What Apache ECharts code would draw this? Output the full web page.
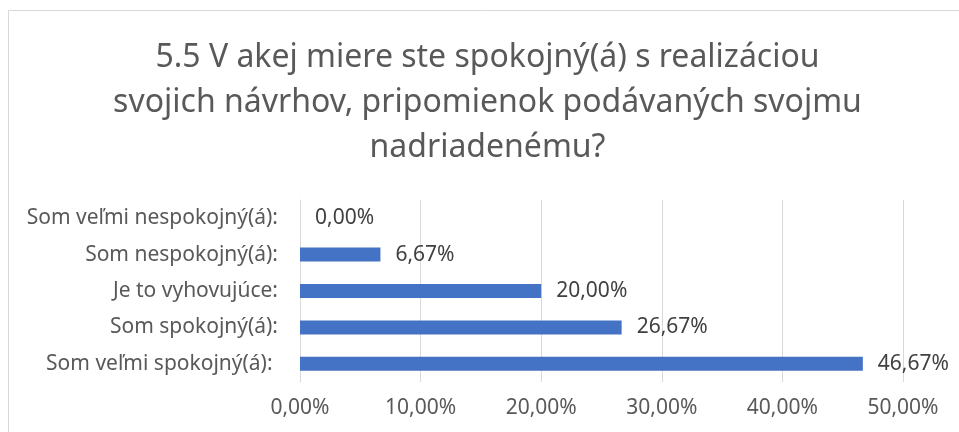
<!DOCTYPE html>
<html>
<head>
<meta charset="utf-8">
<script src="https://cdn.jsdelivr.net/npm/echarts@6/dist/echarts.min.js"></script>
<style>
html, body { margin:0; padding:0; background:#fff; overflow:hidden; }
#graphic { width:975px; height:432px; }
</style>
</head>
<body>
<div id="graphic"></div>
<script>
// kategorie - zhora nadol
var categories = ['Som veľmi nespokojný(á):', 'Som nespokojný(á):', 'Je to vyhovujúce:', 'Som spokojný(á):', 'Som veľmi spokojný(á): '];
// hodnoty v percentach
var values = [0, 6.67, 20, 26.67, 46.67];
var xTicks = [0, 10, 20, 30, 40, 50];

var titleText = '5.5 V akej miere ste spokojný(á) s realizáciou\nsvojich návrhov, pripomienok podávaných svojmu\nnadriadenému?';
var font = 'Noto Sans';
var textColor = '#595959';

function pct(v){
    return v.toFixed(2).replace('.', ',') + '%';
}

var option = {
    animation: false,
    title: {
        text: titleText,
        left: 'center',
        top: 30,
        textStyle: {fontFamily: font, fontSize: 32, fontWeight: 'normal', color: textColor, lineHeight: 45}
    },
    graphic: [{
        type: 'rect',
        shape: {x: 8.5, y: 10.5, width: 958, height: 440},
        style: {fill: 'none', stroke: '#d9d9d9', lineWidth: 1}
    }],
    grid: {left: 300, right: 72, top: 200, bottom: 50, containLabel: false},
    xAxis: {
        type: 'value',
        min: xTicks[0], max: xTicks[xTicks.length - 1], interval: 10,
        axisLine: {show: false}, axisTick: {show: false},
        splitLine: {lineStyle: {color: '#d9d9d9', width: 1}},
        axisLabel: {fontFamily: font, fontSize: 21, color: textColor, margin: 16, formatter: function(v){ return pct(v); }}
    },
    yAxis: {
        type: 'category',
        data: categories,
        inverse: true,
        axisLine: {lineStyle: {color: '#d9d9d9', width: 1}},
        axisTick: {show: false},
        axisLabel: {fontFamily: font, fontSize: 21, color: textColor, margin: 22}
    },
    series: [{
        type: 'bar',
        data: values,
        barWidth: 14,
        itemStyle: {color: '#4472c4'},
        label: {
            show: true, position: 'right', distance: 15,
            fontFamily: font, fontSize: 21, color: '#404040',
            formatter: function(p){ return pct(p.value); }
        }
    }]
};

var graphic = echarts.init(document.getElementById('graphic'));
graphic.setOption(option);
</script>
</body>
</html>
